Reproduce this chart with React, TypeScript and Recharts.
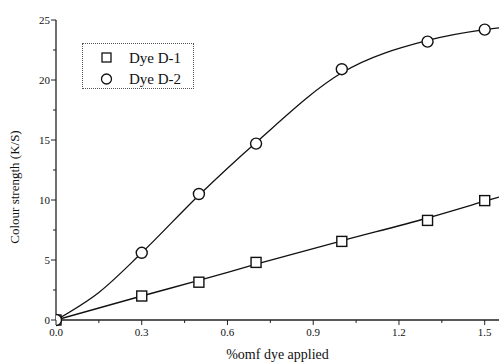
import React from 'react';
import { ComposedChart, Line, XAxis, YAxis } from 'recharts';

// Measured points
const doses = [0, 0.3, 0.5, 0.7, 1.0, 1.3, 1.5];
const dyeD1 = [0, 2.0, 3.15, 4.8, 6.55, 8.3, 9.95];
const dyeD2 = [0, 5.6, 10.5, 14.7, 20.9, 23.2, 24.2];

// Fitted curves
const fitX1 = [0, 0.3, 0.5, 0.7, 1.0, 1.3, 1.5, 1.55];
const fitD1 = [0, 2.0, 3.3, 4.65, 6.6, 8.5, 9.9, 10.25];
const fitX2 = [0, 0.15, 0.3, 0.5, 0.7, 1.0, 1.3, 1.5, 1.55];
const fitD2 = [0, 2.3, 5.6, 10.4, 14.8, 20.6, 23.3, 24.2, 24.35];

const xTicks = [0, 0.15, 0.3, 0.45, 0.6, 0.75, 0.9, 1.05, 1.2, 1.35, 1.5];
const xMajor = [0, 0.3, 0.6, 0.9, 1.2, 1.5];
const yTicks = [0, 2.5, 5, 7.5, 10, 12.5, 15, 17.5, 20, 22.5, 25];
const yMajor = [0, 5, 10, 15, 20, 25];

const seriesNames = ['Dye D-1', 'Dye D-2'];

const FONT = '"Liberation Serif", "DejaVu Serif", serif';

const pts1 = doses.map((x, i) => ({ x, y: dyeD1[i] }));
const pts2 = doses.map((x, i) => ({ x, y: dyeD2[i] }));
const fit1 = fitX1.map((x, i) => ({ x, y: fitD1[i] }));
const fit2 = fitX2.map((x, i) => ({ x, y: fitD2[i] }));

const isIn = (arr: number[], v: number) => arr.some((a) => Math.abs(a - v) < 1e-6);

const XTick = (props: any) => {
  const { x, y, payload } = props;
  const major = isIn(xMajor, payload.value);
  return (
    <g>
      <line x1={x} x2={x} y1={y} y2={y + (major ? 5 : 3)} stroke="#222" strokeWidth={1} />
      {major && (
        <text x={x} y={y + 16} textAnchor="middle" fontSize={11} fontFamily={FONT} fill="#111">
          {payload.value.toFixed(1)}
        </text>
      )}
    </g>
  );
};

const YTick = (props: any) => {
  const { x, y, payload } = props;
  const major = isIn(yMajor, payload.value);
  return (
    <g>
      <line x1={x} x2={x - (major ? 5 : 3)} y1={y} y2={y} stroke="#222" strokeWidth={1} />
      {major && (
        <text x={x - 6} y={y + 4} textAnchor="end" fontSize={11} fontFamily={FONT} fill="#111">
          {payload.value}
        </text>
      )}
    </g>
  );
};

const SquareDot = (props: any) => {
  const { cx, cy } = props;
  if (cx == null || cy == null) return null;
  return <rect x={cx - 5} y={cy - 5} width={10} height={10} fill="#fff" stroke="#111" strokeWidth={1.4} />;
};

const CircleDot = (props: any) => {
  const { cx, cy } = props;
  if (cx == null || cy == null) return null;
  return <circle cx={cx} cy={cy} r={5.5} fill="#fff" stroke="#111" strokeWidth={1.4} />;
};

const LegendBox = () => (
  <div
    style={{
      position: 'absolute',
      left: 82,
      top: 43,
      width: 112,
      height: 46,
      border: '1px dotted #555',
      boxSizing: 'border-box',
      background: '#fff',
    }}
  >
    <svg width={110} height={44} style={{ position: 'absolute', left: 0, top: 0 }}>
      <rect x={19} y={9} width={9} height={9} fill="#fff" stroke="#111" strokeWidth={1.3} />
      <circle cx={23.5} cy={35} r={5} fill="#fff" stroke="#111" strokeWidth={1.3} />
      <text x={46} y={19} fontFamily={FONT} fontSize={15} fill="#111">{seriesNames[0]}</text>
      <text x={46} y={40} fontFamily={FONT} fontSize={15} fill="#111">{seriesNames[1]}</text>
    </svg>
  </div>
);

export default function App() {
  return (
    <div style={{ position: 'absolute', left: 0, top: 0, width: 500, height: 362, background: '#fff' }}>
      <ComposedChart width={500} height={362} margin={{ top: 20, right: 1, bottom: 0, left: 0 }}>
        <XAxis
          type="number"
          dataKey="x"
          domain={[0, 1.55]}
          ticks={xTicks}
          interval={0}
          allowDataOverflow
          tickSize={0}
          tickMargin={0}
          tickLine={false}
          tick={<XTick />}
          height={42}
          axisLine={{ stroke: '#222', strokeWidth: 1.3 }}
          label={{
            value: '%omf dye applied',
            position: 'insideBottom',
            offset: 3,
            fontSize: 14,
            fontFamily: FONT,
            fill: '#111',
          }}
        />
        <YAxis
          type="number"
          domain={[0, 25]}
          ticks={yTicks}
          interval={0}
          tickSize={0}
          tickMargin={0}
          tickLine={false}
          tick={<YTick />}
          width={56}
          axisLine={{ stroke: '#222', strokeWidth: 1.3 }}
          label={{
            value: 'Colour strength (K/S)',
            angle: -90,
            position: 'insideLeft',
            offset: 14,
            dy: 17,
            fontSize: 13,
            fontFamily: FONT,
            fill: '#111',
            style: { textAnchor: 'middle' },
          }}
        />
        <Line data={fit1} dataKey="y" type="monotone" stroke="#111" strokeWidth={1.3} dot={false} isAnimationActive={false} legendType="none" />
        <Line data={fit2} dataKey="y" type="monotone" stroke="#111" strokeWidth={1.3} dot={false} isAnimationActive={false} legendType="none" />
        <Line data={pts1} dataKey="y" name={seriesNames[0]} stroke="none" dot={<SquareDot />} activeDot={false} isAnimationActive={false} />
        <Line data={pts2} dataKey="y" name={seriesNames[1]} stroke="none" dot={<CircleDot />} activeDot={false} isAnimationActive={false} />
      </ComposedChart>
      <LegendBox />
    </div>
  );
}
